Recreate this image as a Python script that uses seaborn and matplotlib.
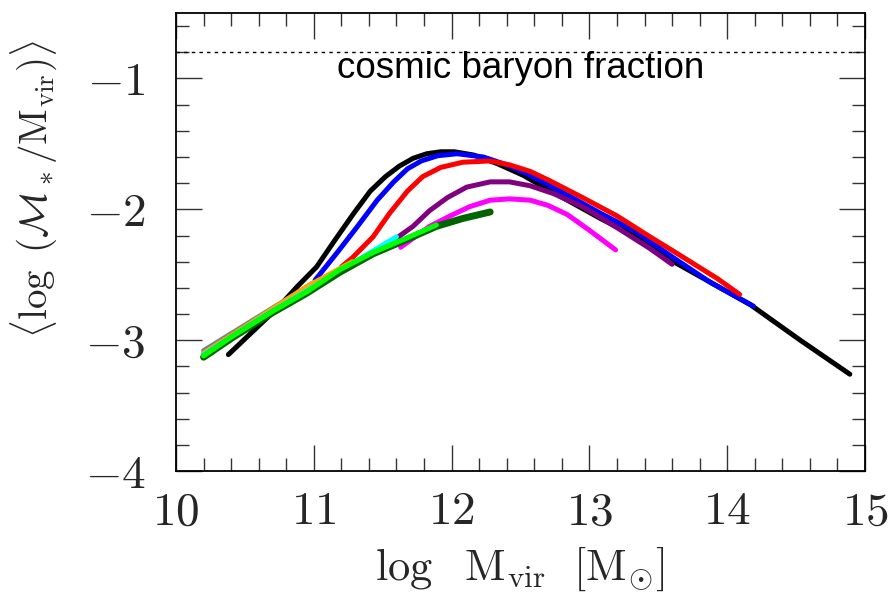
import numpy as np
import pandas as pd
import matplotlib
matplotlib.use("Agg")
import matplotlib.pyplot as plt
from matplotlib.ticker import MultipleLocator, FuncFormatter
import seaborn as sns

# -----------------------------
# data (log Mvir, <log M*/Mvir>)
# -----------------------------
black_x = [10.38, 10.59, 10.75, 10.88, 11.02, 11.15, 11.29, 11.41, 11.52, 11.62, 11.72, 11.82, 11.92, 12.02, 12.16, 12.33, 12.52, 12.70,
           12.84, 13.08, 13.32, 13.61, 13.90, 14.17, 14.53, 14.89]
black_y = [-3.11, -2.90, -2.74, -2.59, -2.44, -2.24, -2.03, -1.86, -1.75, -1.67, -1.61, -1.575, -1.56, -1.56, -1.585, -1.65, -1.74, -1.85,
           -1.93, -2.07, -2.20, -2.40, -2.57, -2.73, -3.00, -3.26]

blue_x = [11.01, 11.17, 11.31, 11.46, 11.58, 11.68, 11.78, 11.90, 12.04, 12.23, 12.40, 12.57, 12.84, 13.08, 13.32, 13.61, 13.88, 14.19]
blue_y = [-2.54, -2.33, -2.14, -1.93, -1.79, -1.69, -1.63, -1.59, -1.575, -1.60, -1.66, -1.74, -1.89, -2.03, -2.16, -2.37, -2.56, -2.74]

red_x = [11.20, 11.28, 11.43, 11.55, 11.68, 11.79, 11.92, 12.08, 12.28, 12.42, 12.57, 12.71, 12.95, 13.20, 13.44, 13.61, 13.93, 14.09]
red_y = [-2.44, -2.37, -2.21, -2.03, -1.86, -1.75, -1.68, -1.64, -1.63, -1.66, -1.71, -1.78, -1.91, -2.05, -2.21, -2.32, -2.53, -2.65]

purple_x = [11.60, 11.72, 11.84, 11.97, 12.11, 12.28, 12.42, 12.57, 12.74, 12.95, 13.20, 13.44, 13.60]
purple_y = [-2.22, -2.13, -2.01, -1.91, -1.83, -1.79, -1.79, -1.82, -1.88, -1.98, -2.14, -2.30, -2.42]

magenta_x = [11.63, 11.84, 11.99, 12.13, 12.28, 12.42, 12.57, 12.70, 12.84, 13.00, 13.19]
magenta_y = [-2.29, -2.13, -2.05, -1.98, -1.93, -1.92, -1.93, -1.97, -2.04, -2.16, -2.31]

dgreen_x = [10.20, 10.41, 10.70, 10.95, 11.19, 11.43, 11.63, 11.89, 12.08, 12.28]
dgreen_y = [-3.13, -2.98, -2.79, -2.64, -2.48, -2.34, -2.25, -2.13, -2.07, -2.02]

green_x = [10.20, 10.41, 10.70, 10.95, 11.19, 11.43, 11.63, 11.89]
green_y = [-3.12, -2.97, -2.78, -2.63, -2.46, -2.33, -2.24, -2.12]

cyan_x = [10.20, 10.60, 11.00, 11.30, 11.60]
cyan_y = [-3.11, -2.84, -2.59, -2.40, -2.21]

orange_x = [10.20, 10.60, 10.95, 11.28]
orange_y = [-3.10, -2.83, -2.59, -2.40]

lavender_x = [10.20, 10.40, 10.60]
lavender_y = [-3.10, -2.97, -2.84]

gray_x = [10.20, 10.40, 10.60, 10.80, 11.00]
gray_y = [-3.08, -2.95, -2.82, -2.69, -2.56]

baryon_frac = -0.8

# -----------------------------
# long-form table
# -----------------------------
series = [
    ("black", black_x, black_y, "black"),
    ("blue", blue_x, blue_y, "#0000ff"),
    ("red", red_x, red_y, "#ff0000"),
    ("purple", purple_x, purple_y, "#800080"),
    ("magenta", magenta_x, magenta_y, "#ff00ff"),
    ("gray", gray_x, gray_y, "#808080"),
    ("lavender", lavender_x, lavender_y, "#9370db"),
    ("orange", orange_x, orange_y, "#ffa500"),
    ("cyan", cyan_x, cyan_y, "#00ffff"),
    ("dgreen", dgreen_x, dgreen_y, "#006400"),
    ("green", green_x, green_y, "#00ff00"),
]
frames = []
for name, xs, ys, _ in series:
    frames.append(pd.DataFrame({"logM": xs, "ratio": ys, "run": name}))
df = pd.concat(frames, ignore_index=True)
palette = {name: c for name, _, _, c in series}
order = [s[0] for s in series]

# -----------------------------
# style
# -----------------------------
sns.set_style("ticks")
plt.rcParams["mathtext.fontset"] = "cm"
plt.rcParams["font.family"] = ["Liberation Sans", "DejaVu Sans"]

fig = plt.figure(figsize=(8.89, 5.94), dpi=100)
ax = fig.add_axes([0.198, 0.207, 0.775, 0.771])

sns.lineplot(data=df, x="logM", y="ratio", hue="run", hue_order=order,
             palette=palette, sort=False, estimator=None, linewidth=3.6,
             legend=False, ax=ax)
for ln, (name, _, _, _) in zip(ax.get_lines(), series):
    ln.set_solid_joinstyle("round")
    if name == "dgreen":
        ln.set_linewidth(5.0)

ax.axhline(baryon_frac, color="black", lw=1.0, ls=(0, (2.5, 3)))
ax.text(12.5, -1.0, "cosmic baryon fraction", ha="center", va="baseline",
        fontsize=26.5, color="black")

ax.set_xlim(10, 15)
ax.set_ylim(-4, -0.5)
ax.xaxis.set_major_locator(MultipleLocator(1))
ax.xaxis.set_minor_locator(MultipleLocator(0.2))
ax.yaxis.set_major_locator(MultipleLocator(1))
ax.yaxis.set_minor_locator(MultipleLocator(0.2))
fmt = FuncFormatter(lambda v, p: r"$%d$" % round(v))
ax.xaxis.set_major_formatter(fmt)
ax.yaxis.set_major_formatter(fmt)

ax.tick_params(which="both", direction="in", top=True, right=True, width=1.0, color="#333333")
ax.tick_params(which="major", length=19)
ax.tick_params(which="minor", length=9.5)
ax.tick_params(axis="x", which="major", labelsize=34, pad=14)
ax.tick_params(axis="y", which="major", labelsize=34, pad=22)
for sp in ax.spines.values():
    sp.set_linewidth(1.3)
    sp.set_color("black")

ax.set_xlabel(r"$\log\ \ \mathrm{M_{vir}}\ \ [\mathrm{M_{\odot}}]$", fontsize=32)
ax.set_ylabel(r"$\langle\log\ (\mathcal{M}_*/\mathrm{M_{vir}})\rangle$", fontsize=28)
ax.xaxis.set_label_coords(0.498, -0.16)
ax.yaxis.set_label_coords(-0.17, 0.615)

fig.savefig("out.png", dpi=100)
